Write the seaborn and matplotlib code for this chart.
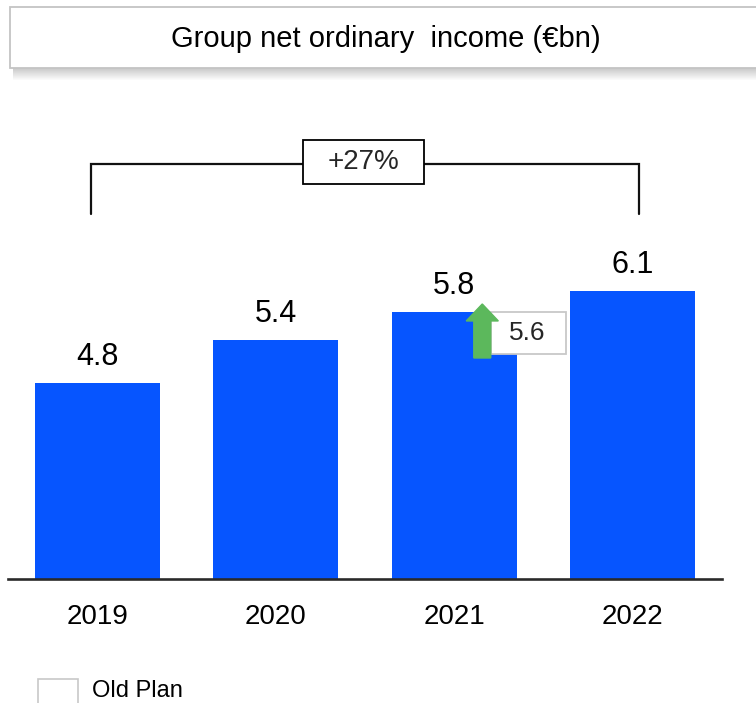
import matplotlib
matplotlib.use("Agg")
import matplotlib.pyplot as plt
from matplotlib.patches import Rectangle, FancyArrow
import seaborn as sns
import pandas as pd

# ---- data ----
years = ["2019", "2020", "2021", "2022"]
income = [4.8, 5.4, 5.8, 6.1]
value_labels = ["4.8", "5.4", "5.8", "6.1"]
old_plan_year = "2021"
old_plan_value = 5.6
growth_label = "+27%"
title = "Group net ordinary  income (€bn)"
legend_label = "Old Plan"

W, H = 756, 703
sns.set_theme(style="white")
plt.rcParams["font.family"] = ["Liberation Sans", "DejaVu Sans"]

fig = plt.figure(figsize=(W / 100, H / 100), dpi=100)
fig.patch.set_facecolor("white")


def fx(x):
    return x / W


def fy(y):
    return 1 - y / H


# axes placement (pixels): x 8..722, y 100..579
ax = fig.add_axes([fx(8), fy(579), fx(722) - fx(8), fy(100) - fy(579)])
df = pd.DataFrame({"year": years, "income": income})
sns.barplot(data=df, x="year", y="income", color="#0655FF", saturation=1,
            width=0.703, ax=ax, edgecolor="none")
ax.set_xlim(-0.5, 3.5)
ax.set_ylim(2.03, 8.798)
ax.set_xlabel("")
ax.set_ylabel("")
ax.set_yticks([])
for s in ["left", "right", "top"]:
    ax.spines[s].set_visible(False)
ax.spines["bottom"].set_color("#2a2a2a")
ax.spines["bottom"].set_linewidth(1.9)
ax.tick_params(axis="x", length=0, pad=18, labelsize=20, colors="black")
ax.bar_label(ax.containers[0], labels=value_labels, padding=8, fontsize=22,
             color="black")

# ---- growth bracket ----
xl, xr = -0.036, 3.034
ytop, ybot = 7.894, 7.188
ax.plot([xl, xl, xr, xr], [ybot, ytop, ytop, ybot], color="#111111", lw=1.6,
        clip_on=False, solid_joinstyle="miter", zorder=3)
ax.add_patch(Rectangle((1.151, 7.611), 0.678, 0.622, facecolor="white",
                       edgecolor="black", lw=1.3, clip_on=False, zorder=4))
ax.text(1.49, 7.922, growth_label, ha="center", va="center", fontsize=20,
        zorder=5, clip_on=False)

# ---- old plan annotation ----
ix = years.index(old_plan_year)
ax.add_patch(Rectangle((ix + 0.204, 5.209), 0.421, 0.594, facecolor="white",
                       edgecolor="#c8c8c8", lw=1.3, zorder=4))
ax.text(ix + 0.406, 5.506, f"{old_plan_value:.1f}", ha="center", va="center",
        fontsize=19, zorder=5)
ax.add_patch(FancyArrow(ix + 0.157, 5.153, 0, 0.763, width=0.095,
                        head_width=0.18, head_length=0.24,
                        length_includes_head=True, color="#5cb85c",
                        zorder=6, clip_on=False))

# ---- title box with shadow ----
x0, x1, y0, y1 = 9.5, 770, 7, 68
for i in range(12):
    a = 0.42 * (1 - i / 12)
    fig.add_artist(Rectangle((fx(13), fy(y1 + i + 1)), fx(x1) - fx(13),
                             1 / H, facecolor="#808080", alpha=a,
                             edgecolor="none", lw=0))
fig.add_artist(Rectangle((fx(x0), fy(y1)), fx(x1) - fx(x0), fy(y0) - fy(y1),
                         facecolor="white", edgecolor="#c4c4c4", lw=1.3))
fig.text(fx(385.5), fy(39), title, ha="center", va="center", fontsize=21,
         color="black")

# ---- legend ----
fig.add_artist(Rectangle((fx(38), fy(708)), fx(78) - fx(38), fy(679) - fy(708),
                         facecolor="white", edgecolor="#c8c8c8", lw=1.2))
fig.text(fx(92), fy(697), legend_label, ha="left", va="baseline", fontsize=17,
         color="black")

fig.savefig("out.png", dpi=100, facecolor="white")
